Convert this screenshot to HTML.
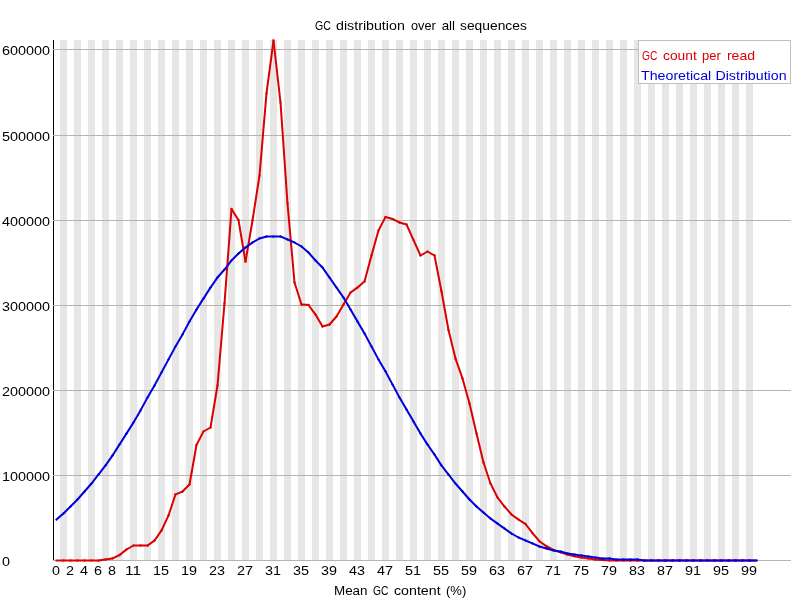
<!DOCTYPE html><html><head><meta charset="utf-8"><title>GC distribution</title><style>html,body{margin:0;padding:0;background:#fff}svg{display:block;will-change:transform}text{font-family:"Liberation Sans",sans-serif;font-size:13px}</style></head><body>
<svg width="800" height="600" viewBox="0 0 800 600">
<rect width="800" height="600" fill="#fff"/>
<g shape-rendering="crispEdges">
<g fill="#e6e6e6"><rect x="60" y="40" width="7" height="520"/><rect x="74" y="40" width="7" height="520"/><rect x="88" y="40" width="7" height="520"/><rect x="102" y="40" width="7" height="520"/><rect x="116" y="40" width="7" height="520"/><rect x="130" y="40" width="7" height="520"/><rect x="144" y="40" width="7" height="520"/><rect x="158" y="40" width="7" height="520"/><rect x="172" y="40" width="7" height="520"/><rect x="186" y="40" width="7" height="520"/><rect x="200" y="40" width="7" height="520"/><rect x="214" y="40" width="7" height="520"/><rect x="228" y="40" width="7" height="520"/><rect x="242" y="40" width="7" height="520"/><rect x="256" y="40" width="7" height="520"/><rect x="270" y="40" width="7" height="520"/><rect x="284" y="40" width="7" height="520"/><rect x="298" y="40" width="7" height="520"/><rect x="312" y="40" width="7" height="520"/><rect x="326" y="40" width="7" height="520"/><rect x="340" y="40" width="7" height="520"/><rect x="354" y="40" width="7" height="520"/><rect x="368" y="40" width="7" height="520"/><rect x="382" y="40" width="7" height="520"/><rect x="396" y="40" width="7" height="520"/><rect x="410" y="40" width="7" height="520"/><rect x="424" y="40" width="7" height="520"/><rect x="438" y="40" width="7" height="520"/><rect x="452" y="40" width="7" height="520"/><rect x="466" y="40" width="7" height="520"/><rect x="480" y="40" width="7" height="520"/><rect x="494" y="40" width="7" height="520"/><rect x="508" y="40" width="7" height="520"/><rect x="522" y="40" width="7" height="520"/><rect x="536" y="40" width="7" height="520"/><rect x="550" y="40" width="7" height="520"/><rect x="564" y="40" width="7" height="520"/><rect x="578" y="40" width="7" height="520"/><rect x="592" y="40" width="7" height="520"/><rect x="606" y="40" width="7" height="520"/><rect x="620" y="40" width="7" height="520"/><rect x="634" y="40" width="7" height="520"/><rect x="648" y="40" width="7" height="520"/><rect x="662" y="40" width="7" height="520"/><rect x="676" y="40" width="7" height="520"/><rect x="690" y="40" width="7" height="520"/><rect x="704" y="40" width="7" height="520"/><rect x="718" y="40" width="7" height="520"/><rect x="732" y="40" width="7" height="520"/><rect x="746" y="40" width="7" height="520"/></g>
<rect x="53" y="40" width="1" height="521" fill="#000"/>
<g fill="#b4b4b4"><rect x="53" y="49" width="738" height="1"/><rect x="53" y="135" width="738" height="1"/><rect x="53" y="220" width="738" height="1"/><rect x="53" y="305" width="738" height="1"/><rect x="53" y="390" width="738" height="1"/><rect x="53" y="475" width="738" height="1"/><rect x="53" y="560" width="738" height="1"/></g>
</g>
<g stroke="#dc0000" stroke-width="2" stroke-linecap="square" fill="none"><line x1="56.5" y1="560.50" x2="63.5" y2="560.50"/><line x1="63.5" y1="560.50" x2="70.5" y2="560.50"/><line x1="70.5" y1="560.50" x2="77.5" y2="560.50"/><line x1="77.5" y1="560.50" x2="84.5" y2="560.50"/><line x1="84.5" y1="560.50" x2="91.5" y2="560.50"/><line x1="91.5" y1="560.50" x2="98.5" y2="560.50"/><line x1="98.5" y1="560.50" x2="105.5" y2="559.50"/><line x1="105.5" y1="559.50" x2="112.5" y2="558.50"/><line x1="112.5" y1="558.50" x2="119.5" y2="555.00"/><line x1="119.5" y1="555.00" x2="126.5" y2="549.50"/><line x1="126.5" y1="549.50" x2="133.5" y2="545.50"/><line x1="133.5" y1="545.50" x2="140.5" y2="545.50"/><line x1="140.5" y1="545.50" x2="147.5" y2="545.50"/><line x1="147.5" y1="545.50" x2="154.5" y2="540.50"/><line x1="154.5" y1="540.50" x2="161.5" y2="530.50"/><line x1="161.5" y1="530.50" x2="168.5" y2="515.50"/><line x1="168.5" y1="515.50" x2="175.5" y2="494.50"/><line x1="175.5" y1="494.50" x2="182.5" y2="491.50"/><line x1="182.5" y1="491.50" x2="189.5" y2="484.50"/><line x1="189.5" y1="484.50" x2="196.5" y2="445.00"/><line x1="196.5" y1="445.00" x2="203.5" y2="431.50"/><line x1="203.5" y1="431.50" x2="210.5" y2="427.50"/><line x1="210.5" y1="427.50" x2="217.5" y2="385.50"/><line x1="217.5" y1="385.50" x2="224.5" y2="303.50"/><line x1="224.5" y1="303.50" x2="231.5" y2="209.00"/><line x1="231.5" y1="209.00" x2="238.5" y2="220.20"/><line x1="238.5" y1="220.20" x2="245.5" y2="261.50"/><line x1="245.5" y1="261.50" x2="252.5" y2="220.50"/><line x1="252.5" y1="220.50" x2="259.5" y2="175.50"/><line x1="259.5" y1="175.50" x2="266.5" y2="93.50"/><line x1="266.5" y1="93.50" x2="273.5" y2="40.50"/><line x1="273.5" y1="40.50" x2="280.5" y2="102.50"/><line x1="280.5" y1="102.50" x2="287.5" y2="203.50"/><line x1="287.5" y1="203.50" x2="294.5" y2="282.50"/><line x1="294.5" y1="282.50" x2="301.5" y2="304.50"/><line x1="301.5" y1="304.50" x2="308.5" y2="305.00"/><line x1="308.5" y1="305.00" x2="315.5" y2="314.50"/><line x1="315.5" y1="314.50" x2="322.5" y2="326.50"/><line x1="322.5" y1="326.50" x2="329.5" y2="324.50"/><line x1="329.5" y1="324.50" x2="336.5" y2="316.50"/><line x1="336.5" y1="316.50" x2="343.5" y2="304.50"/><line x1="343.5" y1="304.50" x2="350.5" y2="292.50"/><line x1="350.5" y1="292.50" x2="357.5" y2="287.50"/><line x1="357.5" y1="287.50" x2="364.5" y2="281.50"/><line x1="364.5" y1="281.50" x2="371.5" y2="255.50"/><line x1="371.5" y1="255.50" x2="378.5" y2="230.50"/><line x1="378.5" y1="230.50" x2="385.5" y2="217.00"/><line x1="385.5" y1="217.00" x2="392.5" y2="219.00"/><line x1="392.5" y1="219.00" x2="399.5" y2="222.50"/><line x1="399.5" y1="222.50" x2="406.5" y2="224.50"/><line x1="406.5" y1="224.50" x2="413.5" y2="240.00"/><line x1="413.5" y1="240.00" x2="420.5" y2="255.50"/><line x1="420.5" y1="255.50" x2="427.5" y2="251.50"/><line x1="427.5" y1="251.50" x2="434.5" y2="255.50"/><line x1="434.5" y1="255.50" x2="441.5" y2="291.50"/><line x1="441.5" y1="291.50" x2="448.5" y2="330.00"/><line x1="448.5" y1="330.00" x2="455.5" y2="358.50"/><line x1="455.5" y1="358.50" x2="462.5" y2="378.50"/><line x1="462.5" y1="378.50" x2="469.5" y2="403.50"/><line x1="469.5" y1="403.50" x2="476.5" y2="433.50"/><line x1="476.5" y1="433.50" x2="483.5" y2="462.50"/><line x1="483.5" y1="462.50" x2="490.5" y2="483.50"/><line x1="490.5" y1="483.50" x2="497.5" y2="497.50"/><line x1="497.5" y1="497.50" x2="504.5" y2="506.50"/><line x1="504.5" y1="506.50" x2="511.5" y2="514.50"/><line x1="511.5" y1="514.50" x2="518.5" y2="519.50"/><line x1="518.5" y1="519.50" x2="525.5" y2="524.00"/><line x1="525.5" y1="524.00" x2="532.5" y2="533.10"/><line x1="532.5" y1="533.10" x2="539.5" y2="541.25"/><line x1="539.5" y1="541.25" x2="546.5" y2="546.25"/><line x1="546.5" y1="546.25" x2="553.5" y2="550.00"/><line x1="553.5" y1="550.00" x2="560.5" y2="552.25"/><line x1="560.5" y1="552.25" x2="567.5" y2="554.50"/><line x1="567.5" y1="554.50" x2="574.5" y2="556.25"/><line x1="574.5" y1="556.25" x2="581.5" y2="557.50"/><line x1="581.5" y1="557.50" x2="588.5" y2="558.50"/><line x1="588.5" y1="558.50" x2="595.5" y2="559.50"/><line x1="595.5" y1="559.50" x2="602.5" y2="560.00"/><line x1="602.5" y1="560.00" x2="609.5" y2="560.50"/><line x1="609.5" y1="560.50" x2="616.5" y2="560.50"/><line x1="616.5" y1="560.50" x2="623.5" y2="560.50"/><line x1="623.5" y1="560.50" x2="630.5" y2="560.50"/><line x1="630.5" y1="560.50" x2="637.5" y2="560.50"/><line x1="637.5" y1="560.50" x2="644.5" y2="560.50"/><line x1="644.5" y1="560.50" x2="651.5" y2="560.50"/><line x1="651.5" y1="560.50" x2="658.5" y2="560.50"/><line x1="658.5" y1="560.50" x2="665.5" y2="560.50"/><line x1="665.5" y1="560.50" x2="672.5" y2="560.50"/><line x1="672.5" y1="560.50" x2="679.5" y2="560.50"/><line x1="679.5" y1="560.50" x2="686.5" y2="560.50"/><line x1="686.5" y1="560.50" x2="693.5" y2="560.50"/><line x1="693.5" y1="560.50" x2="700.5" y2="560.50"/><line x1="700.5" y1="560.50" x2="707.5" y2="560.50"/><line x1="707.5" y1="560.50" x2="714.5" y2="560.50"/><line x1="714.5" y1="560.50" x2="721.5" y2="560.50"/><line x1="721.5" y1="560.50" x2="728.5" y2="560.50"/><line x1="728.5" y1="560.50" x2="735.5" y2="560.50"/><line x1="735.5" y1="560.50" x2="742.5" y2="560.50"/><line x1="742.5" y1="560.50" x2="749.5" y2="560.50"/><line x1="749.5" y1="560.50" x2="756.5" y2="560.50"/></g>
<g stroke="#0000dc" stroke-width="2" stroke-linecap="square" fill="none"><line x1="56.5" y1="519.50" x2="63.5" y2="513.50"/><line x1="63.5" y1="513.50" x2="70.5" y2="506.50"/><line x1="70.5" y1="506.50" x2="77.5" y2="499.50"/><line x1="77.5" y1="499.50" x2="84.5" y2="491.50"/><line x1="84.5" y1="491.50" x2="91.5" y2="483.50"/><line x1="91.5" y1="483.50" x2="98.5" y2="474.50"/><line x1="98.5" y1="474.50" x2="105.5" y2="465.50"/><line x1="105.5" y1="465.50" x2="112.5" y2="455.50"/><line x1="112.5" y1="455.50" x2="119.5" y2="444.50"/><line x1="119.5" y1="444.50" x2="126.5" y2="433.50"/><line x1="126.5" y1="433.50" x2="133.5" y2="422.50"/><line x1="133.5" y1="422.50" x2="140.5" y2="410.50"/><line x1="140.5" y1="410.50" x2="147.5" y2="397.50"/><line x1="147.5" y1="397.50" x2="154.5" y2="385.50"/><line x1="154.5" y1="385.50" x2="161.5" y2="372.50"/><line x1="161.5" y1="372.50" x2="168.5" y2="359.50"/><line x1="168.5" y1="359.50" x2="175.5" y2="346.50"/><line x1="175.5" y1="346.50" x2="182.5" y2="334.50"/><line x1="182.5" y1="334.50" x2="189.5" y2="321.50"/><line x1="189.5" y1="321.50" x2="196.5" y2="309.50"/><line x1="196.5" y1="309.50" x2="203.5" y2="298.50"/><line x1="203.5" y1="298.50" x2="210.5" y2="287.50"/><line x1="210.5" y1="287.50" x2="217.5" y2="277.50"/><line x1="217.5" y1="277.50" x2="224.5" y2="269.50"/><line x1="224.5" y1="269.50" x2="231.5" y2="260.50"/><line x1="231.5" y1="260.50" x2="238.5" y2="253.50"/><line x1="238.5" y1="253.50" x2="245.5" y2="247.50"/><line x1="245.5" y1="247.50" x2="252.5" y2="242.50"/><line x1="252.5" y1="242.50" x2="259.5" y2="238.50"/><line x1="259.5" y1="238.50" x2="266.5" y2="236.50"/><line x1="266.5" y1="236.50" x2="273.5" y2="236.50"/><line x1="273.5" y1="236.50" x2="280.5" y2="236.50"/><line x1="280.5" y1="236.50" x2="287.5" y2="239.50"/><line x1="287.5" y1="239.50" x2="294.5" y2="242.50"/><line x1="294.5" y1="242.50" x2="301.5" y2="246.50"/><line x1="301.5" y1="246.50" x2="308.5" y2="252.50"/><line x1="308.5" y1="252.50" x2="315.5" y2="260.50"/><line x1="315.5" y1="260.50" x2="322.5" y2="267.50"/><line x1="322.5" y1="267.50" x2="329.5" y2="277.50"/><line x1="329.5" y1="277.50" x2="336.5" y2="287.50"/><line x1="336.5" y1="287.50" x2="343.5" y2="297.50"/><line x1="343.5" y1="297.50" x2="350.5" y2="309.50"/><line x1="350.5" y1="309.50" x2="357.5" y2="321.50"/><line x1="357.5" y1="321.50" x2="364.5" y2="333.50"/><line x1="364.5" y1="333.50" x2="371.5" y2="346.50"/><line x1="371.5" y1="346.50" x2="378.5" y2="359.50"/><line x1="378.5" y1="359.50" x2="385.5" y2="371.50"/><line x1="385.5" y1="371.50" x2="392.5" y2="384.50"/><line x1="392.5" y1="384.50" x2="399.5" y2="397.50"/><line x1="399.5" y1="397.50" x2="406.5" y2="409.50"/><line x1="406.5" y1="409.50" x2="413.5" y2="421.50"/><line x1="413.5" y1="421.50" x2="420.5" y2="433.50"/><line x1="420.5" y1="433.50" x2="427.5" y2="444.50"/><line x1="427.5" y1="444.50" x2="434.5" y2="454.50"/><line x1="434.5" y1="454.50" x2="441.5" y2="465.50"/><line x1="441.5" y1="465.50" x2="448.5" y2="474.50"/><line x1="448.5" y1="474.50" x2="455.5" y2="483.50"/><line x1="455.5" y1="483.50" x2="462.5" y2="491.50"/><line x1="462.5" y1="491.50" x2="469.5" y2="499.50"/><line x1="469.5" y1="499.50" x2="476.5" y2="506.50"/><line x1="476.5" y1="506.50" x2="483.5" y2="512.50"/><line x1="483.5" y1="512.50" x2="490.5" y2="518.50"/><line x1="490.5" y1="518.50" x2="497.5" y2="523.50"/><line x1="497.5" y1="523.50" x2="504.5" y2="528.50"/><line x1="504.5" y1="528.50" x2="511.5" y2="533.50"/><line x1="511.5" y1="533.50" x2="518.5" y2="537.50"/><line x1="518.5" y1="537.50" x2="525.5" y2="540.50"/><line x1="525.5" y1="540.50" x2="532.5" y2="543.50"/><line x1="532.5" y1="543.50" x2="539.5" y2="546.50"/><line x1="539.5" y1="546.50" x2="546.5" y2="548.50"/><line x1="546.5" y1="548.50" x2="553.5" y2="550.50"/><line x1="553.5" y1="550.50" x2="560.5" y2="551.50"/><line x1="560.5" y1="551.50" x2="567.5" y2="553.50"/><line x1="567.5" y1="553.50" x2="574.5" y2="554.50"/><line x1="574.5" y1="554.50" x2="581.5" y2="555.50"/><line x1="581.5" y1="555.50" x2="588.5" y2="556.50"/><line x1="588.5" y1="556.50" x2="595.5" y2="557.50"/><line x1="595.5" y1="557.50" x2="602.5" y2="558.50"/><line x1="602.5" y1="558.50" x2="609.5" y2="558.50"/><line x1="609.5" y1="558.50" x2="616.5" y2="559.50"/><line x1="616.5" y1="559.50" x2="623.5" y2="559.50"/><line x1="623.5" y1="559.50" x2="630.5" y2="559.50"/><line x1="630.5" y1="559.50" x2="637.5" y2="559.50"/><line x1="637.5" y1="559.50" x2="644.5" y2="560.50"/><line x1="644.5" y1="560.50" x2="651.5" y2="560.50"/><line x1="651.5" y1="560.50" x2="658.5" y2="560.50"/><line x1="658.5" y1="560.50" x2="665.5" y2="560.50"/><line x1="665.5" y1="560.50" x2="672.5" y2="560.50"/><line x1="672.5" y1="560.50" x2="679.5" y2="560.50"/><line x1="679.5" y1="560.50" x2="686.5" y2="560.50"/><line x1="686.5" y1="560.50" x2="693.5" y2="560.50"/><line x1="693.5" y1="560.50" x2="700.5" y2="560.50"/><line x1="700.5" y1="560.50" x2="707.5" y2="560.50"/><line x1="707.5" y1="560.50" x2="714.5" y2="560.50"/><line x1="714.5" y1="560.50" x2="721.5" y2="560.50"/><line x1="721.5" y1="560.50" x2="728.5" y2="560.50"/><line x1="728.5" y1="560.50" x2="735.5" y2="560.50"/><line x1="735.5" y1="560.50" x2="742.5" y2="560.50"/><line x1="742.5" y1="560.50" x2="749.5" y2="560.50"/><line x1="749.5" y1="560.50" x2="756.5" y2="560.50"/></g>
<g shape-rendering="crispEdges"><rect x="638.5" y="40.5" width="152" height="43" fill="#fff" stroke="#c0c0c0" stroke-width="1"/></g>
<g style="font-size:13px"><text transform="translate(315.00,30) scale(0.8158,1)" fill="#000">GC</text>
<text transform="translate(336.00,30) scale(1.0952,1)" fill="#000">distribution</text>
<text transform="translate(411.00,30) scale(0.9808,1)" fill="#000">over</text>
<text transform="translate(441.70,30) scale(1.0250,1)" fill="#000">all</text>
<text transform="translate(460.00,30) scale(1.0635,1)" fill="#000">sequences</text>
<text transform="translate(642.00,60) scale(0.7895,1)" fill="#dc0000">GC</text>
<text transform="translate(663.00,60) scale(1.0625,1)" fill="#dc0000">count</text>
<text transform="translate(702.00,60) scale(1.0000,1)" fill="#dc0000">per</text>
<text transform="translate(726.92,60) scale(1.0800,1)" fill="#dc0000">read</text>
<text transform="translate(641.00,80) scale(1.0938,1)" fill="#0000dc">Theoretical</text>
<text transform="translate(715.40,80) scale(1.0969,1)" fill="#0000dc">Distribution</text>
<text transform="translate(333.97,595) scale(1.0323,1)" fill="#000">Mean</text>
<text transform="translate(373.00,595) scale(0.7895,1)" fill="#000">GC</text>
<text transform="translate(394.00,595) scale(1.0930,1)" fill="#000">content</text>
<text transform="translate(446.00,595) scale(1.0000,1)" fill="#000">(%)</text>
<text x="2" y="55" textLength="48" lengthAdjust="spacingAndGlyphs">600000</text>
<text x="2" y="141" textLength="48" lengthAdjust="spacingAndGlyphs">500000</text>
<text x="2" y="226" textLength="48" lengthAdjust="spacingAndGlyphs">400000</text>
<text x="2" y="311" textLength="48" lengthAdjust="spacingAndGlyphs">300000</text>
<text x="2" y="396" textLength="48" lengthAdjust="spacingAndGlyphs">200000</text>
<text x="2" y="481" textLength="48" lengthAdjust="spacingAndGlyphs">100000</text>
<text x="2" y="566" textLength="8" lengthAdjust="spacingAndGlyphs">0</text>
<text x="52" y="575" textLength="8" lengthAdjust="spacingAndGlyphs">0</text>
<text x="66" y="575" textLength="8" lengthAdjust="spacingAndGlyphs">2</text>
<text x="80" y="575" textLength="8" lengthAdjust="spacingAndGlyphs">4</text>
<text x="94" y="575" textLength="8" lengthAdjust="spacingAndGlyphs">6</text>
<text x="108" y="575" textLength="8" lengthAdjust="spacingAndGlyphs">8</text>
<text x="125" y="575" textLength="16" lengthAdjust="spacingAndGlyphs">11</text>
<text x="153" y="575" textLength="16" lengthAdjust="spacingAndGlyphs">15</text>
<text x="181" y="575" textLength="16" lengthAdjust="spacingAndGlyphs">19</text>
<text x="209" y="575" textLength="16" lengthAdjust="spacingAndGlyphs">23</text>
<text x="237" y="575" textLength="16" lengthAdjust="spacingAndGlyphs">27</text>
<text x="265" y="575" textLength="16" lengthAdjust="spacingAndGlyphs">31</text>
<text x="293" y="575" textLength="16" lengthAdjust="spacingAndGlyphs">35</text>
<text x="321" y="575" textLength="16" lengthAdjust="spacingAndGlyphs">39</text>
<text x="349" y="575" textLength="16" lengthAdjust="spacingAndGlyphs">43</text>
<text x="377" y="575" textLength="16" lengthAdjust="spacingAndGlyphs">47</text>
<text x="405" y="575" textLength="16" lengthAdjust="spacingAndGlyphs">51</text>
<text x="433" y="575" textLength="16" lengthAdjust="spacingAndGlyphs">55</text>
<text x="461" y="575" textLength="16" lengthAdjust="spacingAndGlyphs">59</text>
<text x="489" y="575" textLength="16" lengthAdjust="spacingAndGlyphs">63</text>
<text x="517" y="575" textLength="16" lengthAdjust="spacingAndGlyphs">67</text>
<text x="545" y="575" textLength="16" lengthAdjust="spacingAndGlyphs">71</text>
<text x="573" y="575" textLength="16" lengthAdjust="spacingAndGlyphs">75</text>
<text x="601" y="575" textLength="16" lengthAdjust="spacingAndGlyphs">79</text>
<text x="629" y="575" textLength="16" lengthAdjust="spacingAndGlyphs">83</text>
<text x="657" y="575" textLength="16" lengthAdjust="spacingAndGlyphs">87</text>
<text x="685" y="575" textLength="16" lengthAdjust="spacingAndGlyphs">91</text>
<text x="713" y="575" textLength="16" lengthAdjust="spacingAndGlyphs">95</text>
<text x="741" y="575" textLength="16" lengthAdjust="spacingAndGlyphs">99</text></g>
</svg></body></html>
